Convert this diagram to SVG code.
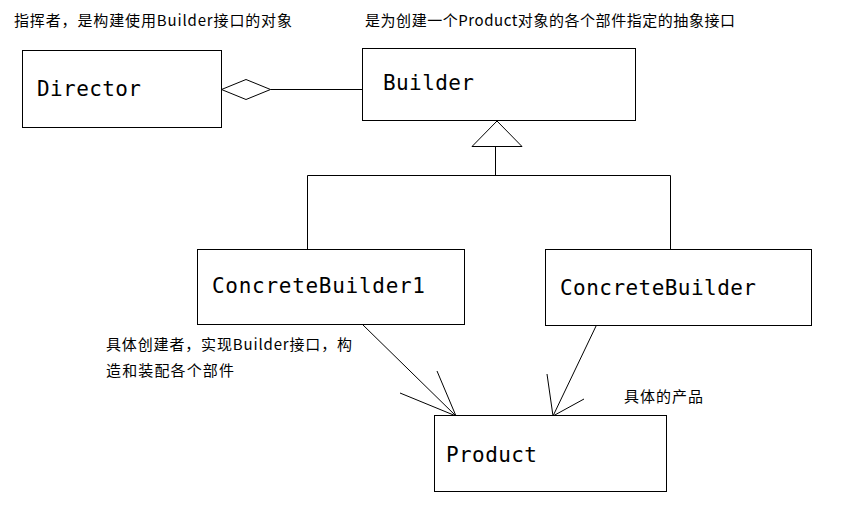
<svg xmlns="http://www.w3.org/2000/svg" width="846" height="518" viewBox="0 0 846 518">
<style>
.box{fill:#fff;stroke:#000;stroke-width:1}
.ln{fill:none;stroke:#000;stroke-width:1}
.lbl{font-family:"DejaVu Sans Mono","Liberation Mono",monospace;font-size:21px;fill:#000}
.note{font-family:"Microsoft YaHei","Noto Sans CJK SC","Noto Sans",sans-serif;font-size:15px;fill:#000}
</style>
<rect width="846" height="518" fill="#fff"/>
<g id="connectors">
<polygon class="ln" points="221.5,89.5 246,79.5 270.5,89.5 246,99.5"/>
<line class="ln" x1="270.5" y1="89.5" x2="362.5" y2="89.5"/>
<polygon class="ln" points="497,121 472,146.5 522,146.5"/>
<line class="ln" x1="495.5" y1="146.5" x2="495.5" y2="175.5"/>
<polyline class="ln" points="307.5,249.5 307.5,175.5 670.5,175.5 670.5,249.5"/>
<line class="ln" x1="362" y1="324" x2="456" y2="416"/>
<line class="ln" x1="437" y1="371" x2="456" y2="416"/>
<line class="ln" x1="400" y1="393" x2="456" y2="416"/>
<line class="ln" x1="597" y1="324" x2="553" y2="416"/>
<line class="ln" x1="547" y1="374" x2="553" y2="416"/>
<line class="ln" x1="584" y1="399" x2="553" y2="416"/>
</g>
<g id="director">
<rect class="box" x="22.5" y="50.5" width="199" height="77"/>
<text class="lbl" x="37" y="96" textLength="104">Director</text>
</g>
<g id="builder">
<rect class="box" x="362.5" y="48.5" width="273" height="72"/>
<text class="lbl" x="383" y="90" textLength="91">Builder</text>
</g>
<g id="concretebuilder1">
<rect class="box" x="197.5" y="249.5" width="267" height="75"/>
<text class="lbl" x="212" y="293" textLength="213">ConcreteBuilder1</text>
</g>
<g id="concretebuilder">
<rect class="box" x="545.5" y="249.5" width="266" height="76"/>
<text class="lbl" x="560" y="295" textLength="196">ConcreteBuilder</text>
</g>
<g id="product">
<rect class="box" x="434.5" y="415.5" width="232" height="76"/>
<text class="lbl" x="446" y="462" textLength="91">Product</text>
</g>
<g id="notes">
<text class="note" x="14" y="26" textLength="278">指挥者，是构建使用Builder接口的对象</text>
<text class="note" x="365" y="26" textLength="370">是为创建一个Product对象的各个部件指定的抽象接口</text>
<text class="note" x="106" y="350" textLength="246">具体创建者，实现Builder接口，构</text>
<text class="note" x="106" y="376" textLength="128">造和装配各个部件</text>
<text class="note" x="624" y="402" textLength="79">具体的产品</text>
</g>
</svg>
